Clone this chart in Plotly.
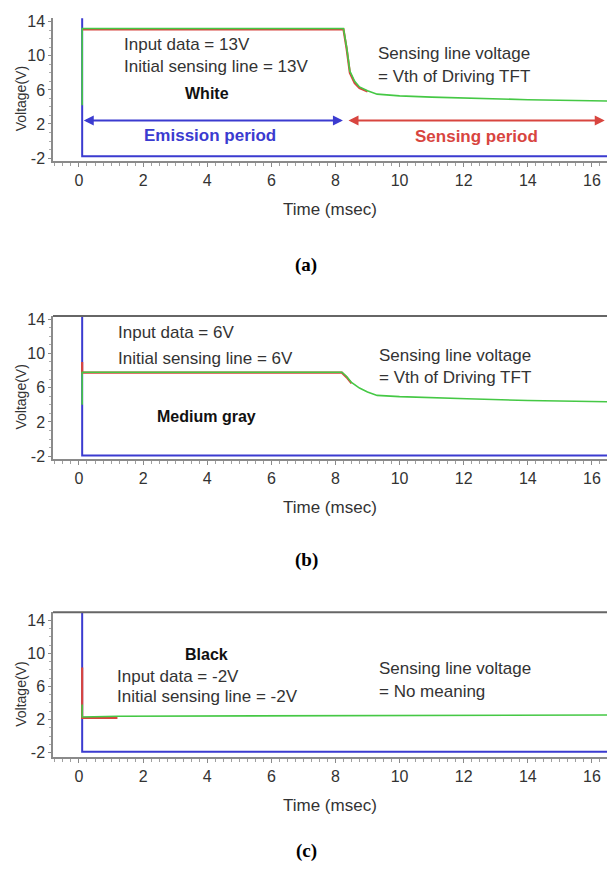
import plotly.graph_objects as go

W, H = 609, 882

# ---------------- data ----------------
x_ticks = [0, 2, 4, 6, 8, 10, 12, 14, 16]
y_ticks = [-2, 2, 6, 10, 14]

# panel (a) White
a_green_t = [0.1, 0.1, 8.25, 8.35, 8.45, 8.6, 8.75, 9.0, 9.3, 10.0, 11.0, 12.5, 14.0, 16.5]
a_green_v = [4.2, 13.2, 13.2, 11.0, 8.2, 7.0, 6.35, 5.9, 5.5, 5.3, 5.15, 5.0, 4.85, 4.7]
a_red_t = [0.1, 8.25, 8.35, 8.45, 8.6, 8.75, 9.0]
a_red_v = [13.1, 13.1, 10.8, 8.0, 6.8, 6.2, 5.8]
a_blue_t = [0.1, 0.1, 16.5]
a_blue_v = [14.4, -1.8, -1.8]

# panel (b) Medium gray
b_green_t = [0.1, 0.1, 8.2, 8.35, 8.5, 8.75, 9.0, 9.3, 10.0, 11.0, 12.1, 14.0, 16.5]
b_green_v = [4.0, 7.8, 7.8, 7.3, 6.6, 5.95, 5.5, 5.1, 4.95, 4.8, 4.7, 4.5, 4.35]
b_red_t = [0.1, 0.1, 8.2, 8.35, 8.5]
b_red_v = [9.0, 7.75, 7.75, 7.2, 6.5]
b_blue_t = [0.1, 0.1, 16.5]
b_blue_v = [14.4, -1.9, -1.9]

# panel (c) Black
c_green_t = [0.1, 0.1, 1.2, 8.3, 16.5]
c_green_v = [3.8, 2.3, 2.4, 2.5, 2.55]
c_red_t = [0.1, 0.1, 1.2]
c_red_v = [8.3, 2.2, 2.2]
c_blue_t = [0.1, 0.1, 16.5]
c_blue_v = [15.0, -1.9, -1.9]

emission_span = [0.15, 8.28]
sensing_span = [8.36, 16.4]
period_arrow_v = 2.4

# ---------------- styling ----------------
RED = "#d8453f"
GREEN = "#45c845"
BLUE = "#3b3bd0"
AXC = "#8a8a8a"
FONT = "Liberation Sans, Arial, sans-serif"


def px(x):
    return x / W


def py(y):
    return 1 - y / H


panels = [
    # (suffix, top px, bottom px, yrange, top border)
    ("", 13, 158, [-2.35, 14.46], False),
    ("2", 315, 460, [-2.35, 14.35], True),
    ("3", 615, 762, [-2.6, 14.97], True),
]

fig = go.Figure()

series = [
    (a_red_t, a_red_v, a_green_t, a_green_v, a_blue_t, a_blue_v),
    (b_red_t, b_red_v, b_green_t, b_green_v, b_blue_t, b_blue_v),
    (c_red_t, c_red_v, c_green_t, c_green_v, c_blue_t, c_blue_v),
]

layout_axes = {}
for (suf, top, bot, yr, border), s in zip(panels, series):
    xa = "x" + suf
    ya = "y" + suf
    rt, rv, gt, gv, bt, bv = s
    fig.add_trace(go.Scatter(x=bt, y=bv, mode="lines", line=dict(color=BLUE, width=2),
                             xaxis=xa, yaxis=ya, showlegend=False))
    fig.add_trace(go.Scatter(x=rt, y=rv, mode="lines", line=dict(color=RED, width=2.2),
                             xaxis=xa, yaxis=ya, showlegend=False))
    fig.add_trace(go.Scatter(x=gt, y=gv, mode="lines", line=dict(color=GREEN, width=1.6),
                             xaxis=xa, yaxis=ya, showlegend=False))
    layout_axes["xaxis" + suf] = dict(
        domain=[px(53), px(607)], range=[-0.81, 16.47], anchor=ya,
        tickvals=x_ticks, ticktext=[str(v) for v in x_ticks],
        showgrid=False, zeroline=False, showline=True, linecolor=AXC, linewidth=1.5,
        ticks="outside", ticklen=4, tickcolor=AXC, tickwidth=1,
        minor=dict(dtick=0.25, ticks="outside", ticklen=3, tickcolor="#a0a0a0", tickwidth=1),
        tickfont=dict(family=FONT, size=16, color="#333333"),
        fixedrange=True,
    )
    layout_axes["yaxis" + suf] = dict(
        domain=[py(bot), py(top)], range=yr, anchor=xa,
        tickvals=y_ticks, ticktext=[str(v) for v in y_ticks],
        showgrid=False, zeroline=False, showline=True, linecolor=AXC, linewidth=1.5,
        ticks="outside", ticklen=3, tickcolor=AXC,
        minor=dict(dtick=1, ticks="outside", ticklen=2, tickcolor="#aaaaaa"),
        tickfont=dict(family=FONT, size=16, color="#333333"),
        fixedrange=True,
    )
    if border:
        fig.add_shape(type="line", xref="paper", yref="paper",
                      x0=px(53), x1=px(607), y0=py(top), y1=py(top),
                      line=dict(color="#666666", width=2))

fig.update_layout(**layout_axes)

ann = []


def text(x, y, s, size=17, color="#333333", bold=False, xanchor="left", family=FONT, angle=0):
    ann.append(dict(xref="paper", yref="paper", x=px(x), y=py(y),
                    text=("<b>%s</b>" % s) if bold else s,
                    showarrow=False, xanchor=xanchor, yanchor="middle", textangle=angle,
                    font=dict(family=family, size=size, color=color)))


# panel (a) texts
text(122, 40, "Input data = 13V")
text(122, 62, "Initial sensing line = 13V")
text(207, 90, "White", size=16, color="#111111", bold=True, xanchor="center")
text(376, 49, "Sensing line voltage")
text(376, 72, "= Vth of Driving TFT")
text(210, 132, "Emission period", size=17, color=BLUE, bold=True, xanchor="center")
text(476, 133, "Sensing period", size=17, color=RED, bold=True, xanchor="center")

# panel (b) texts
text(116, 332, "Input data = 6V")
text(116, 358, "Initial sensing line = 6V")
text(207, 417, "Medium gray", size=16, color="#111111", bold=True, xanchor="center")
text(377, 355, "Sensing line voltage")
text(377, 377, "= Vth of Driving TFT")

# panel (c) texts
text(207, 658, "Black", size=16, color="#111111", bold=True, xanchor="center")
text(115, 680, "Input data = -2V")
text(115, 700, "Initial sensing line = -2V")
text(377, 672, "Sensing line voltage")
text(377, 695, "= No meaning")

# axis titles and panel labels
for top, bot, lab, laby in [(13, 158, "(a)", 263), (315, 460, "(b)", 562), (615, 762, "(c)", 857)]:
    text(21, (top + bot) / 2 + 10, "Voltage(V)", size=14, xanchor="center", angle=-90)
    text(330, bot + 49, "Time (msec)", size=17, xanchor="center")
    text(306, laby, lab, size=19, color="#000000", bold=True, xanchor="center",
         family="Liberation Serif, Times New Roman, serif")

# period arrows (panel a)
ann.append(dict(xref="x", yref="y", axref="x", ayref="y",
                x=emission_span[0], y=period_arrow_v, ax=emission_span[1], ay=period_arrow_v,
                text="", showarrow=True, arrowhead=2, arrowsize=1, arrowwidth=2,
                arrowside="end+start", arrowcolor=BLUE, standoff=0, startstandoff=0))
ann.append(dict(xref="x", yref="y", axref="x", ayref="y",
                x=sensing_span[1], y=period_arrow_v, ax=sensing_span[0], ay=period_arrow_v,
                text="", showarrow=True, arrowhead=2, arrowsize=1, arrowwidth=2,
                arrowside="end+start", arrowcolor=RED, standoff=0, startstandoff=0))

fig.update_layout(
    annotations=ann,
    width=W, height=H,
    margin=dict(l=0, r=0, t=0, b=0),
    paper_bgcolor="white", plot_bgcolor="white",
    showlegend=False,
)

fig.write_html(
    "out.html",
    config={"displayModeBar": False},
    post_script="document.body.style.margin='0';document.body.style.overflow='hidden';",
)
